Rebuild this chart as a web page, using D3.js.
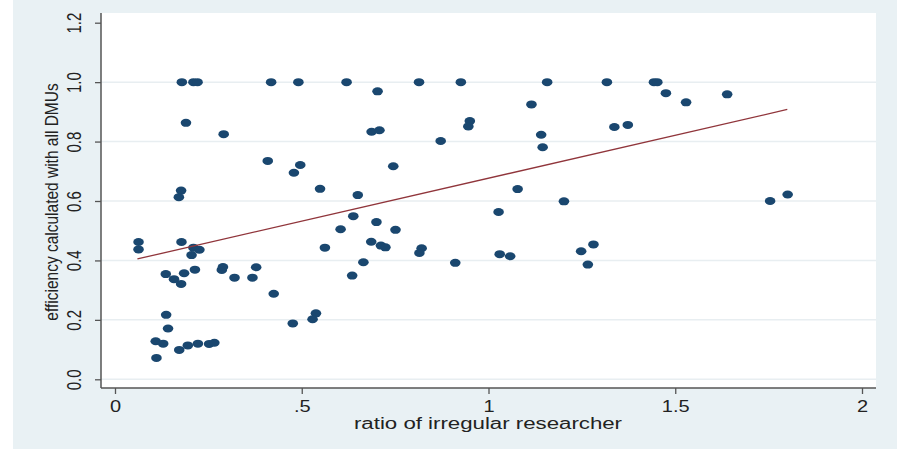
<!DOCTYPE html>
<html>
<head>
<meta charset="utf-8">
<script src="https://cdn.jsdelivr.net/npm/d3@7"></script>
<style>
  html, body { margin: 0; padding: 0; background: #ffffff; }
  svg { display: block; }
  text { font-family: "Liberation Sans", Arial, Helvetica, sans-serif; fill: #222; }
</style>
</head>
<body>
<svg id="chart" width="901" height="449"></svg>
<script>
// ---- data ----
const ratioIrregular = [
  0.179, 0.210, 0.221, 0.418, 0.491, 0.620, 0.814, 0.926, 1.157, 1.317, 1.443, 1.452,
  0.703, 1.475, 1.529, 1.639, 1.115, 0.950, 0.946, 1.141, 1.145, 1.337, 1.373,
  1.078, 1.027, 1.202, 1.754, 1.801,
  0.190, 0.291, 0.687, 0.708, 0.872, 0.409, 0.479, 0.496, 0.745, 0.549, 0.650,
  0.177, 0.171, 0.638, 0.700, 0.604, 0.751, 0.562, 0.686, 0.712, 0.724, 0.821, 0.815,
  0.911, 0.665, 0.635, 0.538, 0.529, 0.476,
  1.030, 1.058, 1.248, 1.281, 1.266,
  0.063, 0.063, 0.178, 0.210, 0.226, 0.205, 0.136, 0.158, 0.177, 0.185, 0.214,
  0.286, 0.289, 0.320, 0.368, 0.378, 0.425, 0.137, 0.142, 0.109, 0.129, 0.111,
  0.172, 0.195, 0.222, 0.252, 0.266
];
const efficiency = [
  1.0, 1.0, 1.0, 1.0, 1.0, 1.0, 1.0, 1.0, 1.0, 1.0, 1.0, 1.0,
  0.969, 0.963, 0.932, 0.959, 0.925, 0.869, 0.851, 0.823, 0.781, 0.849, 0.856,
  0.640, 0.563, 0.599, 0.600, 0.622,
  0.863, 0.825, 0.833, 0.838, 0.802, 0.735, 0.695, 0.721, 0.717, 0.641, 0.620,
  0.635, 0.613, 0.549, 0.529, 0.505, 0.503, 0.443, 0.463, 0.450, 0.444, 0.441, 0.425,
  0.392, 0.394, 0.349, 0.222, 0.202, 0.188,
  0.421, 0.414, 0.431, 0.454, 0.386,
  0.462, 0.437, 0.462, 0.443, 0.436, 0.418, 0.354, 0.337, 0.321, 0.357, 0.369,
  0.368, 0.378, 0.342, 0.342, 0.377, 0.288, 0.217, 0.171, 0.128, 0.120, 0.072,
  0.099, 0.114, 0.120, 0.119, 0.123
];
// fitted line endpoints (linear fit as drawn)
const fitX = [0.06, 1.80];
const fitY = [0.405, 0.908];

const xTicks = [0, 0.5, 1, 1.5, 2];
const xTickLabels = ["0", ".5", "1", "1.5", "2"];
const yTicks = [0, 0.2, 0.4, 0.6, 0.8, 1.0, 1.2];
const yTickLabels = ["0.0", "0.2", "0.4", "0.6", "0.8", "1.0", "1.2"];
const gridValues = [0, 0.2, 0.4, 0.6, 0.8, 1.0];

const xTitle = "ratio of irregular researcher";
const yTitle = "efficiency calculated with all DMUs";

// ---- layout ----
const svg = d3.select("#chart");
const plot = { left: 101, right: 876, top: 13, bottom: 388 };
const x = d3.scaleLinear().domain([0, 2]).range([115, 862]);
const y = d3.scaleLinear().domain([0, 1.2]).range([379.3, 22.7]);

// graph region (light bluish gray) and white plot region
svg.append("rect").attr("x", 13).attr("y", 0).attr("width", 884).attr("height", 449)
  .attr("fill", "#e9f1f4");
svg.append("rect").attr("x", plot.left).attr("y", plot.top)
  .attr("width", plot.right - plot.left).attr("height", plot.bottom - plot.top)
  .attr("fill", "#ffffff");

// grid lines
svg.append("g").selectAll("line").data(gridValues).join("line")
  .attr("x1", plot.left).attr("x2", plot.right)
  .attr("y1", d => y(d)).attr("y2", d => y(d))
  .attr("stroke", "#e8eef1").attr("stroke-width", 1.5);

// axes
const xAxis = d3.axisBottom(x).tickValues(xTicks)
  .tickFormat((d, i) => xTickLabels[i]).tickSize(6).tickSizeOuter(0);
const gx = svg.append("g").attr("transform", `translate(0,${plot.bottom})`).call(xAxis);
gx.select(".domain").remove();
gx.selectAll(".tick line").attr("stroke", "#555").attr("stroke-width", 1.3);
gx.selectAll(".tick text")
  .attr("y", 0).attr("dy", 0)
  .attr("transform", "translate(0,24) scale(1.25,1)")
  .attr("font-size", 16).attr("font-family", null)
  .attr("fill", "#222").attr("text-anchor", "middle");

const yAxis = d3.axisLeft(y).tickValues(yTicks)
  .tickFormat((d, i) => yTickLabels[i]).tickSize(6).tickSizeOuter(0);
const gy = svg.append("g").attr("transform", `translate(${plot.left},0)`).call(yAxis);
gy.select(".domain").remove();
gy.selectAll(".tick line").attr("stroke", "#555").attr("stroke-width", 1.3);
gy.selectAll(".tick text")
  .attr("x", 0).attr("y", 0).attr("dy", 0)
  .attr("transform", "translate(-20,0) scale(1.35,1) rotate(-90)")
  .attr("font-size", 15).attr("font-family", null)
  .attr("fill", "#222").attr("text-anchor", "middle");

// axis lines
svg.append("line").attr("x1", plot.left).attr("x2", plot.left)
  .attr("y1", plot.top).attr("y2", plot.bottom)
  .attr("stroke", "#555").attr("stroke-width", 1.5);
svg.append("line").attr("x1", plot.left).attr("x2", plot.right)
  .attr("y1", plot.bottom).attr("y2", plot.bottom)
  .attr("stroke", "#555").attr("stroke-width", 1.5);

// scatter points
const pts = ratioIrregular.map((v, i) => ({ x: v, y: efficiency[i] }));
svg.append("g").selectAll("ellipse").data(pts).join("ellipse")
  .attr("cx", d => x(d.x)).attr("cy", d => y(d.y))
  .attr("rx", 5.3).attr("ry", 4)
  .attr("fill", "#1a476f");

// fitted line
const fitData = fitX.map((v, i) => ({ x: v, y: fitY[i] }));
svg.append("path").datum(fitData)
  .attr("d", d3.line().x(d => x(d.x)).y(d => y(d.y)))
  .attr("fill", "none").attr("stroke", "#90353b").attr("stroke-width", 1.3);

// titles
svg.append("text")
  .attr("transform", "translate(488,429) scale(1.39,1)")
  .attr("text-anchor", "middle").attr("font-size", 16)
  .text(xTitle);
svg.append("text")
  .attr("transform", "translate(58,202) scale(1.2,1) rotate(-90)")
  .attr("text-anchor", "middle").attr("font-size", 15.5)
  .text(yTitle);
</script>
</body>
</html>
